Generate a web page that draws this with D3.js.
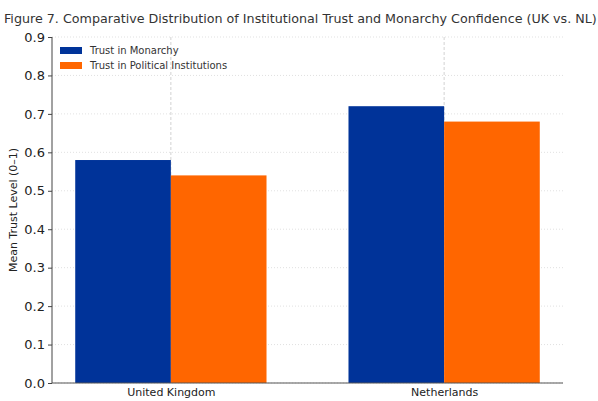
<!DOCTYPE html>
<html><head><meta charset="utf-8">
<script src="https://cdn.jsdelivr.net/npm/d3@7"></script>
<style>body{margin:0;background:#fff;}svg{display:block;font-family:"DejaVu Sans",sans-serif;}</style>
</head><body>
<svg id="c" width="598" height="401"></svg>
<script>
const categories = ["United Kingdom", "Netherlands"];
const seriesNames = ["Trust in Monarchy", "Trust in Political Institutions"];
const monarchy = [0.58, 0.72];
const political = [0.54, 0.68];
const yTicks = [0.0, 0.1, 0.2, 0.3, 0.4, 0.5, 0.6, 0.7, 0.8, 0.9];
const colors = ["#003399", "#FF6600"];
const title = "Figure 7. Comparative Distribution of Institutional Trust and Monarchy Confidence (UK vs. NL)";

const svg = d3.select("#c");
const L = 52, R = 563, T = 37, B = 383;
const barW = 0.35;
const x = d3.scaleLinear().domain([-0.435, 1.435]).range([L, R]);
const y = d3.scaleLinear().domain([0, 0.9]).range([B, T]);

// grid
svg.append("g").selectAll("line").data(yTicks).join("line")
  .attr("x1", L).attr("x2", R).attr("y1", d => y(d)).attr("y2", d => y(d))
  .attr("stroke", "#d9d9d9").attr("stroke-width", 0.8).attr("stroke-dasharray", "1,2");
svg.append("g").selectAll("line").data(categories).join("line")
  .attr("x1", (d, i) => x(i)).attr("x2", (d, i) => x(i)).attr("y1", T).attr("y2", B)
  .attr("stroke", "#c8c8c8").attr("stroke-width", 0.8).attr("stroke-dasharray", "3,2");

// bars
const series = [monarchy, political];
series.forEach((vals, s) => {
  svg.append("g").selectAll("rect").data(vals).join("rect")
    .attr("x", (d, i) => x(i + (s === 0 ? -barW : 0)))
    .attr("width", x(barW) - x(0))
    .attr("y", d => y(d)).attr("height", d => B - y(d))
    .attr("fill", colors[s]);
});

// y axis
const ya = svg.append("g").attr("transform", `translate(${L},0)`)
  .call(d3.axisLeft(y).tickValues(yTicks).tickFormat(d3.format(".1f")).tickSize(4).tickPadding(3));
ya.select(".domain").attr("stroke", "#444").attr("d", `M-0,${T}H0V${B}H-0`);
ya.selectAll(".tick line").attr("stroke", "#444");
ya.selectAll("text").attr("font-size", 13).attr("fill", "#222").attr("font-family", "DejaVu Sans");

// x axis
const xa = svg.append("g").attr("transform", `translate(0,${B})`)
  .call(d3.axisBottom(x).tickValues([0, 1]).tickFormat(i => categories[i]).tickSize(0).tickPadding(5));
xa.select(".domain").attr("stroke", "#555").attr("d", `M${L},0H${R}`);
xa.selectAll("text").attr("font-size", 11).attr("fill", "#222").attr("font-family", "DejaVu Sans");

// y label
svg.append("text").attr("transform", `translate(17,${(T + B) / 2}) rotate(-90)`)
  .attr("text-anchor", "middle").attr("font-size", 11).attr("fill", "#222")
  .text("Mean Trust Level (0\u20131)");

// title
svg.append("text").attr("x", 4).attr("y", 23).attr("text-anchor", "start")
  .attr("font-size", 12.7).attr("fill", "#333").text(title);

// legend
const lg = svg.append("g");
seriesNames.forEach((n, i) => {
  lg.append("rect").attr("x", 60).attr("y", 47 + i * 15).attr("width", 22).attr("height", 7).attr("fill", colors[i]);
  lg.append("text").attr("x", 90).attr("y", 54 + i * 15).attr("font-size", 10).attr("fill", "#333").text(n);
});
</script>
</body></html>
